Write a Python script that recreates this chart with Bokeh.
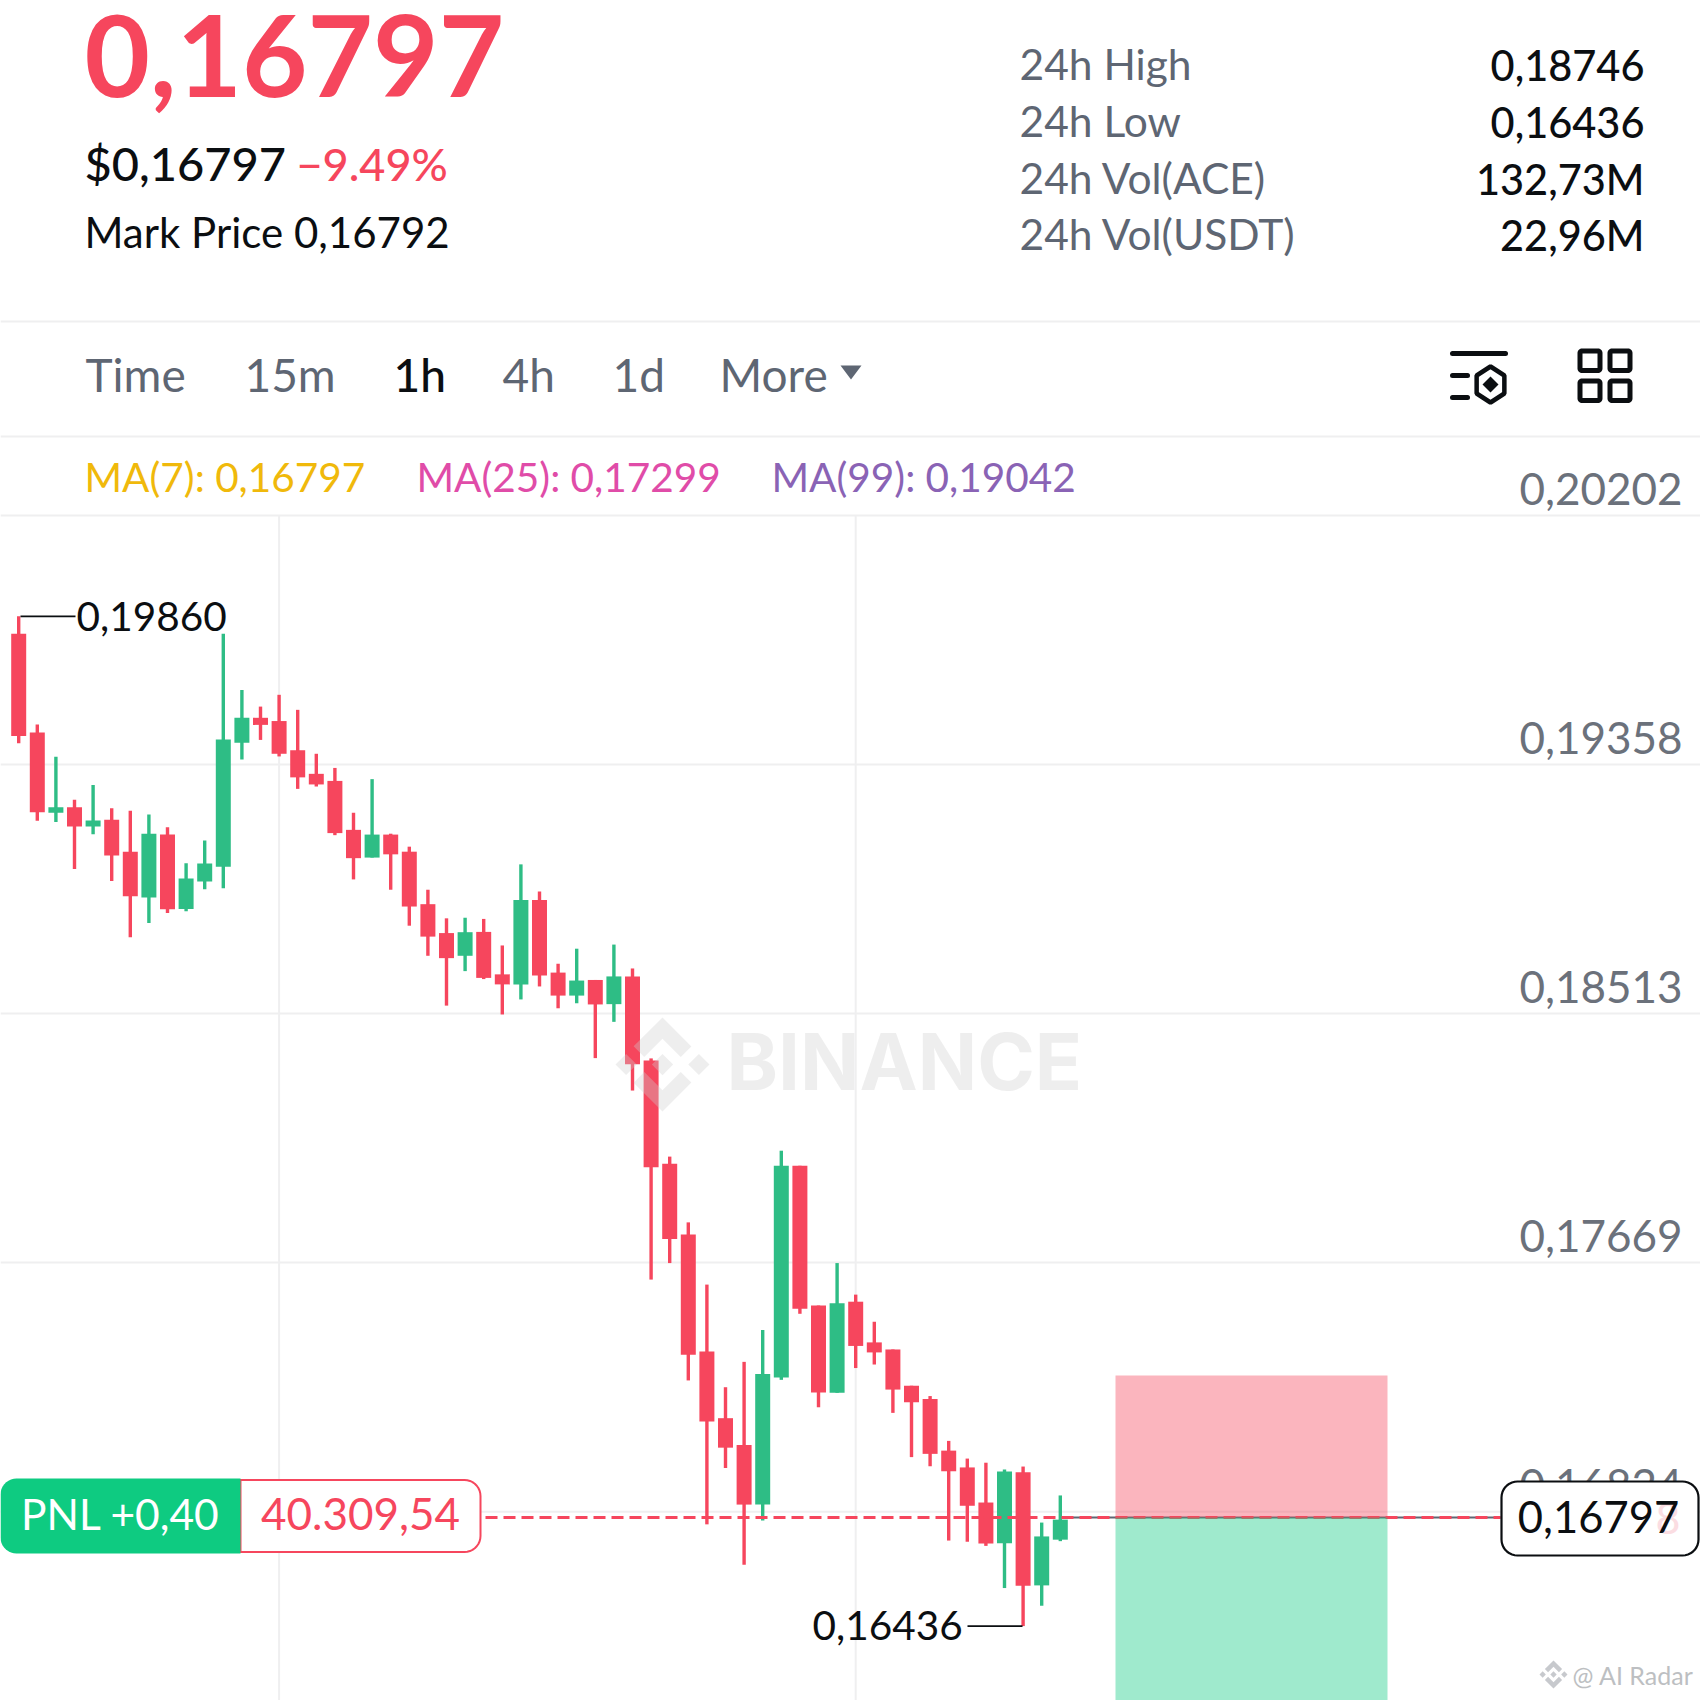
import numpy as np
from bokeh.plotting import figure
from bokeh.models import Range1d, ColumnDataSource
from bokeh.core.properties import value
from bokeh.embed import file_html
from bokeh.resources import INLINE

highs = [.19860,.19493,.19384,.19238,.19288,.19209,.19201,.19188,.19145,.19023,.19100,.19801,.19610,.19554,.19594,.19543,.19394,.19346,.19194,.19308,.19123,.19079,.18933,.18836,.18838,.18834,.18744,.19019,.18927,.18682,.18733,.18627,.18747,.18666,.18361,.18028,.17805,.17594,.17246,.17332,.17440,.18048,.17997,.17523,.17667,.17560,.17468,.17374,.17251,.17216,.17064,.17004,.16990,.16967,.16977,.16787,.16879]
opens = [.19801,.19466,.19194,.19213,.19147,.19170,.19062,.18907,.19120,.18868,.18961,.19011,.19431,.19516,.19505,.19406,.19326,.19302,.19136,.19042,.19120,.19062,.18884,.18786,.18709,.18790,.18646,.18612,.18898,.18652,.18574,.18627,.18545,.18639,.18354,.18004,.17764,.17367,.17141,.17050,.16848,.17279,.17997,.17523,.17227,.17536,.17398,.17374,.17251,.17206,.17031,.16974,.16855,.16717,.16958,.16574,.16729]
closes = [.19454,.19196,.19213,.19147,.19168,.19049,.18911,.19123,.18867,.18971,.19022,.19442,.19516,.19492,.19394,.19314,.19290,.19125,.19040,.19120,.19053,.18876,.18774,.18701,.18789,.18634,.18612,.18898,.18642,.18574,.18625,.18544,.18639,.18341,.17992,.17749,.17356,.17130,.17041,.16848,.17291,.17997,.17512,.17228,.17531,.17386,.17364,.17238,.17195,.17020,.16961,.16844,.16716,.16960,.16573,.16740,.16797]
lows = [.19430,.19167,.19163,.19003,.19121,.18963,.18772,.18820,.18854,.18860,.18935,.18938,.19375,.19441,.19385,.19275,.19283,.19118,.18968,.19042,.18933,.18811,.18709,.18540,.18657,.18630,.18510,.18561,.18605,.18531,.18548,.18362,.18485,.18252,.17611,.17667,.17269,.16781,.16972,.16644,.16794,.17271,.17495,.17178,.17227,.17311,.17323,.17159,.17009,.16978,.16726,.16722,.16708,.16565,.16436,.16505,.16724]
tick_values = [.20202,.19358,.18513,.17669,.16824]
tick_labels = ["0,20202","0,19358","0,18513","0,17669","0,16824"]
vgrid_index = [14,45]
line_price = .16804
high_value = .19860
low_value = .16436
tp_top = .17286
stats_names = ["24h High","24h Low","24h Vol(ACE)","24h Vol(USDT)"]
stats_values = ["0,18746","0,16436","132,73M","22,96M"]
intervals = ["Time","15m","1h","4h","1d","More"]

RED, GREEN, INK, GRAY = "#F6465D", "#2EBD85", "#0B0E11", "#5E6673"
GRID = "#EFEFF0"
FONT = "Lato"
FONTM = "Lato Medium"
K = 0.37  # baseline correction, em

idx = list(range(len(opens)))
X0, DX = 18.2, 18.6
Y0, DY = 515.0, 0.00003391
BOTTOM = .20202-(1700-Y0)*DY
p = figure(width=1700, height=1700, output_backend="svg", toolbar_location=None,
           x_range=Range1d((0-X0)/DX, (1700-X0)/DX),
           y_range=Range1d(BOTTOM, .20202+Y0*DY),
           x_axis_location=None, y_axis_location=None, min_border=0,
           outline_line_color=None, background_fill_color="white")
p.grid.visible = False
p.extra_x_ranges["px"] = Range1d(0, 1700)
p.extra_y_ranges["px"] = Range1d(1700, 0)
PX = dict(x_range_name="px", y_range_name="px")
PXX = dict(x_range_name="px")


def T(x, y, s, size, color, font=FONT, style="normal", align="left", alpha=1.0, k=K):
    p.text(x=[x], y=[y-k*size], text=[s], text_font=value(font), text_font_size=f"{size}px",
           text_font_style=style, text_color=color, text_alpha=alpha, text_align=align,
           text_baseline="alphabetic", **PX)


def rrect(x0, y0, x1, y1, rl, rr):
    xs, ys = [], []
    for cx, cy, r, a0 in [(x1-rr, y0+rr, rr, -90), (x1-rr, y1-rr, rr, 0),
                          (x0+rl, y1-rl, rl, 90), (x0+rl, y0+rl, rl, 180)]:
        t = np.radians(np.linspace(a0, a0+90, 10))
        xs += list(cx+r*np.cos(t))
        ys += list(cy+r*np.sin(t))
    return xs, ys


def logo(cx, cy, size, color, alpha):
    S = size/126.61
    polys = [
        [(38.73,53.2),(63.3,28.63),(87.88,53.21),(102.18,38.91),(63.3,0),(24.43,38.87)],
        [(0,63.31),(14.3,49.01),(28.6,63.31),(14.3,77.61)],
        [(48.97,63.3),(63.3,48.99),(77.63,63.3),(63.3,77.62)],
        [(98,63.31),(112.3,49),(126.6,63.3),(112.3,77.6)],
        [(38.73,73.41),(63.3,97.98),(87.88,73.4),(102.18,87.7),(63.3,126.61),(24.43,87.74)],
    ]
    for poly in polys:
        p.patch([cx+(a-63.3)*S for a, b in poly], [cy+(b-63.3)*S for a, b in poly],
                fill_color=color, fill_alpha=alpha, line_color=None, **PX)


# separators and grid
for yy in (321, 436):
    p.line([0, 1700], [yy, yy], line_color=GRID, line_width=2, **PX)
for tv in tick_values:
    p.line([0, 1700], [tv, tv], line_color=GRID, line_width=2, **PXX)
for vi in vgrid_index:
    p.line([vi, vi], [tick_values[0], BOTTOM], line_color=GRID, line_width=2)

# candles
cols = [GREEN if c >= o else RED for o, c in zip(opens, closes)]
src = ColumnDataSource(dict(x=idx, h=highs, l=lows, t=[max(a, b) for a, b in zip(opens, closes)],
                            b=[min(a, b) for a, b in zip(opens, closes)], c=cols))
p.segment("x", "h", "x", "l", source=src, line_color="c", line_width=3.4)
p.vbar("x", top="t", bottom="b", width=0.806, source=src, fill_color="c", line_color=None)

# watermark
logo(662, 1064, 94, "#CECECE", 0.35)
T(726, 1090, "BINANCE", 78, "#CECECE", font="Inter", style="bold", alpha=0.35)

# last price lines
p.line([idx[-1]*DX+X0+8, 1500], [line_price, line_price], line_color=GRAY, line_width=2, **PXX)
p.line([485, 1500], [line_price, line_price], line_color=RED, line_width=3, line_dash="12 6", **PXX)

# position zones
p.quad(left=[1115], right=[1387], top=[tp_top], bottom=[line_price], fill_color=RED, fill_alpha=0.4, line_color=None, **PXX)
p.quad(left=[1115], right=[1387], top=[line_price], bottom=[BOTTOM], fill_color="#0ECB81", fill_alpha=0.4, line_color=None, **PXX)

# tick labels
p.text(x=[1682]*len(tick_values), y=tick_values, text=tick_labels, text_font=value(FONT),
       text_font_size="44px", text_color="#6B717B", text_align="right",
       text_baseline="alphabetic", y_offset=-10-K*44, **PXX)

# header
T(84, 97, "0,16797", 113, RED, style="bold")
T(84, 180, "$0,16797", 47, INK, font=FONTM)
T(296, 180, "−9.49%", 45, RED, font=FONTM)
T(84, 247, "Mark Price 0,16792", 42, INK)
for nm, vl, yy in zip(stats_names, stats_values, (79, 136, 193, 249)):
    T(1019, yy, nm, 42.5, GRAY)
    T(1644, yy+1, vl, 41.5, INK, font=FONTM, align="right")

# interval row
for lab, xx in zip(intervals, (85, 244, 393, 502, 612, 719)):
    if lab == "1h":
        T(xx, 391, lab, 46, INK, font=FONTM)
    else:
        T(xx, 391, lab, 46, GRAY)
p.patch([840, 861, 850.5], [365, 365, 379], fill_color=GRAY, line_color=None, **PX)

# icons
p.line([1452, 1505], [353, 353], line_color=INK, line_width=5, line_cap="round", **PX)
p.line([1452, 1467], [375, 375], line_color=INK, line_width=5, line_cap="round", **PX)
p.line([1452, 1467], [397, 397], line_color=INK, line_width=5, line_cap="round", **PX)
a = np.radians(np.arange(-90, 270, 60))
p.patch(list(1490+16*np.cos(a)), list(384+18*np.sin(a)), fill_color=None, line_color=INK, line_width=4.5, **PX)
p.patch([1490, 1498, 1490, 1482], [376, 384, 392, 384], fill_color=INK, line_color=None, **PX)
for xa, xb in ((1579.5, 1599.5), (1609.5, 1629.5)):
    for ya, yb in ((350.5, 370), (380.5, 400)):
        xs, ys = rrect(xa, ya, xb, yb, 2, 2)
        p.patch(xs, ys, fill_color=None, line_color=INK, line_width=5, **PX)

# MA row
T(84, 491, "MA(7): 0,16797", 40.5, "#F0B90B")
T(416, 491, "MA(25): 0,17299", 40.5, "#E04CA8")
T(771, 491, "MA(99): 0,19042", 40.5, "#8A63B5")

# extreme annotations
p.line([20, 75], [high_value]*2, line_color=INK, line_width=1.8, **PXX)
T(76, 631, "0,19860", 40.5, INK)
p.line([967, 1022], [low_value]*2, line_color=INK, line_width=1.8, **PXX)
T(812, 1640, "0,16436", 40.5, INK)

# PNL tag
xs, ys = rrect(240, 1479.5, 480, 1551.5, 0.1, 16)
p.patch(xs, ys, fill_color="white", line_color=RED, line_width=2, **PX)
xs, ys = rrect(0, 1478, 240, 1553, 16, 0.1)
p.patch(xs, ys, fill_color="#0ECB81", line_color=None, **PX)
T(120, 1529, "PNL +0,40", 42.5, "white", align="center")
T(360, 1530, "40.309,54", 44, RED, align="center")

# price tag
xs, ys = rrect(1501, 1481, 1698, 1555, 16, 16)
p.patch(xs, ys, fill_color="white", line_color=INK, line_width=2.2, **PX)
T(1680, 1534, "8", 43, "#FBDDE2", align="right")
T(1598, 1533, "0,16797", 43.5, INK, align="center")

# corner mark
logo(1553, 1674, 28, "#B9BCC0", 0.8)
T(1572, 1684, "@ AI Radar", 25, "#BDBFC2")

open("out.html", "w").write(file_html(p, INLINE))
